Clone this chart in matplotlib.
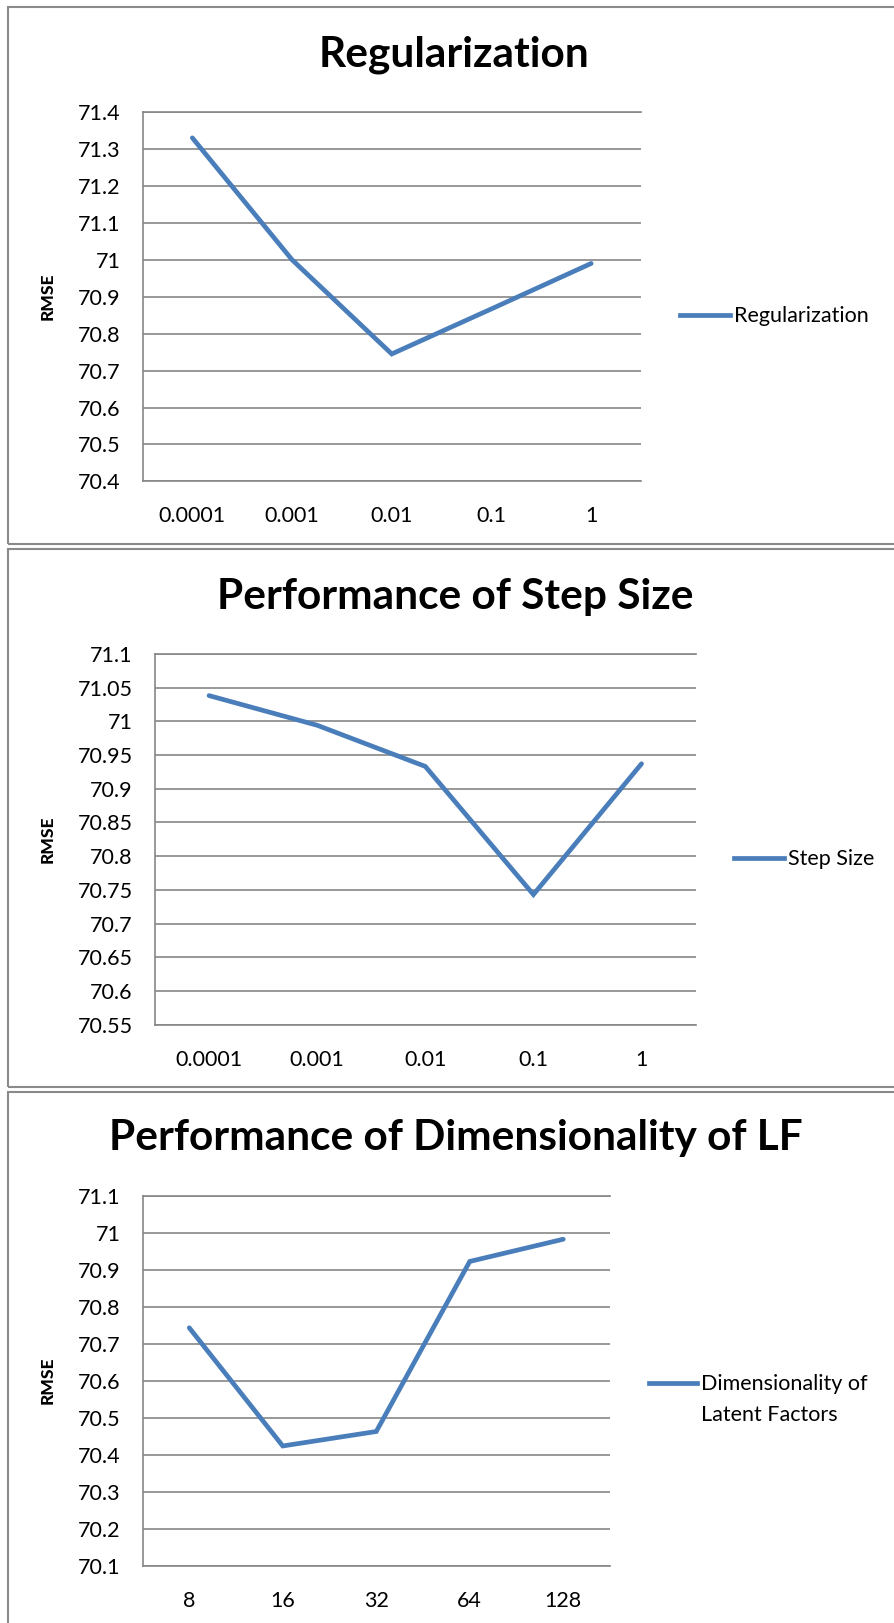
import matplotlib
matplotlib.use("Agg")
import matplotlib.pyplot as plt
from matplotlib.lines import Line2D
from matplotlib.patches import Rectangle
from matplotlib.ticker import FuncFormatter
import numpy as np

plt.rcParams["font.family"] = ["Lato", "DejaVu Sans"]

# RMSE for each hyper-parameter sweep
reg_labels = ["0.0001", "0.001", "0.01", "0.1", "1"]
reg_rmse = [71.33, 71.0, 70.745, 70.867, 70.99]

step_labels = ["0.0001", "0.001", "0.01", "0.1", "1"]
step_rmse = [71.038, 70.994, 70.933, 70.743, 70.937]

dim_labels = ["8", "16", "32", "64", "128"]
dim_rmse = [70.743, 70.424, 70.463, 70.922, 70.982]

W, H = 894, 1623
BLUE = "#4A7EBB"
GRID = "#868686"

fig = plt.figure(figsize=(W / 100, H / 100), dpi=100)


def fx(x):
    return x / W


def fy(y):
    return 1 - y / H


def excel_fmt(v, pos):
    return "%g" % round(v, 4)


def panel(box, labels, values, lo, hi, step, title, title_xy, legend_lines, legend_xy):
    left, top, right, bottom = box
    ax = fig.add_axes([fx(left), fy(bottom), (right - left) / W, (bottom - top) / H])
    x = np.arange(len(labels))
    ax.plot(x, values, color=BLUE, lw=3.4, solid_capstyle="round", solid_joinstyle="miter")
    ax.set_xlim(-0.5, len(labels) - 0.5)
    ax.set_ylim(lo, hi)
    ax.set_yticks(np.arange(lo, hi + step / 2, step))
    ax.yaxis.set_major_formatter(FuncFormatter(excel_fmt))
    ax.set_xticks(x)
    ax.set_xticklabels(labels)
    ax.grid(axis="y", color=GRID, lw=1.2)
    ax.set_axisbelow(True)
    for s in ["top", "bottom", "left"]:
        ax.spines[s].set_color(GRID)
        ax.spines[s].set_linewidth(1.2)
    ax.spines["right"].set_visible(False)
    ax.tick_params(axis="y", length=0, pad=16, labelsize=15.5)
    ax.tick_params(axis="x", length=0, pad=18, labelsize=15.5)
    ax.set_ylabel("RMSE", fontsize=12.5, fontweight="black")
    ax.yaxis.set_label_coords((56 - left) / (right - left), 0.5)

    fig.text(fx(title_xy[0]), fy(title_xy[1]), title, ha="center", va="baseline",
             fontsize=30.5, fontweight="bold")

    lx0, lx1, ly = legend_xy
    fig.add_artist(Line2D([fx(lx0), fx(lx1)], [fy(ly), fy(ly)], color=BLUE, lw=3.4,
                          transform=fig.transFigure))
    for i, line in enumerate(legend_lines):
        fig.text(fx(lx1 + 4), fy(ly + 7 + 31 * i), line, ha="left", va="baseline",
                 fontsize=15.5)
    return ax


panel((142.5, 112, 641, 481.4), reg_labels, reg_rmse, 70.4, 71.4, 0.1,
      "Regularization", (454, 66), ["Regularization"], (680, 730, 315))
panel((155, 653.8, 695.6, 1024.7), step_labels, step_rmse, 70.55, 71.1, 0.05,
      "Performance of Step Size", (455.5, 609), ["Step Size"], (734, 784, 858))
panel((142.5, 1195.5, 610, 1566), dim_labels, dim_rmse, 70.1, 71.1, 0.1,
      "Performance of Dimensionality of LF", (456, 1150),
      ["Dimensionality of", "Latent Factors"], (649, 697, 1383))

# chart frames
for top, bottom in [(7, 544), (549, 1087), (1092, 1640)]:
    fig.add_artist(Rectangle((fx(7.5), fy(bottom)), fx(910 - 7.5), (bottom - top) / H,
                             transform=fig.transFigure, fill=False, ec="#8a8a8a", lw=1.5))

fig.savefig("out.png", dpi=100)
